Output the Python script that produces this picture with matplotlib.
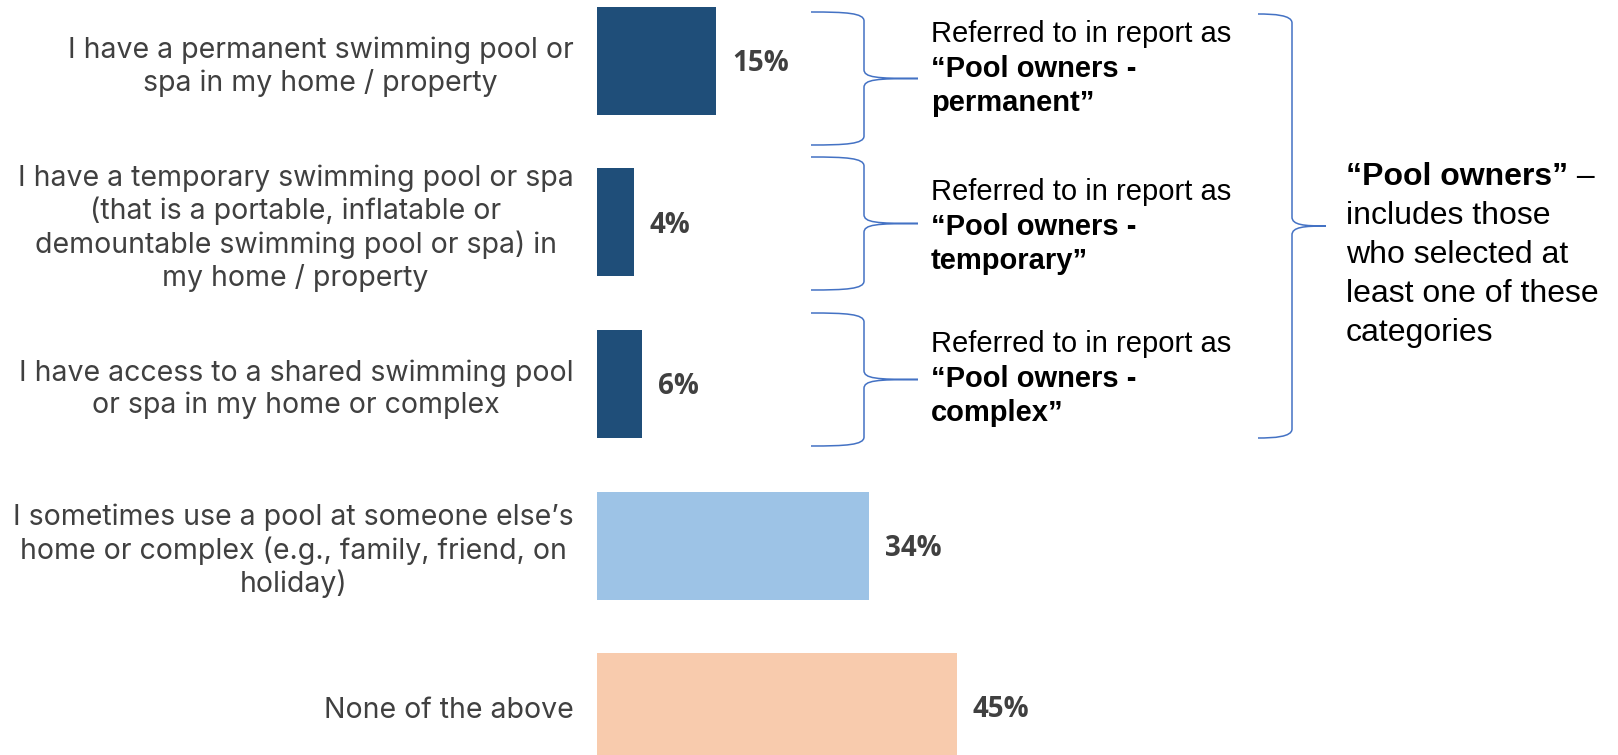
import matplotlib
matplotlib.use("Agg")
import matplotlib.pyplot as plt
from matplotlib.path import Path
from matplotlib.patches import PathPatch

# ---------------- data ----------------
categories = [
    "I have a permanent swimming pool or\nspa in my home / property",
    "I have a temporary swimming pool or spa\n(that is a portable, inflatable or\ndemountable swimming pool or spa) in\nmy home / property",
    "I have access to a shared swimming pool\nor spa in my home or complex",
    "I sometimes use a pool at someone else\u2019s\nhome or complex (e.g., family, friend, on\nholiday)",
    "None of the above",
]
values = [14.9, 4.6, 5.6, 34.0, 45.0]
value_labels = ["15%", "4%", "6%", "34%", "45%"]
bar_colors = ["#1F4E79", "#1F4E79", "#1F4E79", "#9DC3E6", "#F8CBAD"]

sub_notes = [
    ("Referred to in report as", "\u201cPool owners -", "permanent\u201d"),
    ("Referred to in report as", "\u201cPool owners -", "temporary\u201d"),
    ("Referred to in report as", "\u201cPool owners -", "complex\u201d"),
]
main_note_bold = "\u201cPool owners\u201d"
main_note_rest = "includes those\nwho selected at\nleast one of these\ncategories"

# ---------------- figure ----------------
W, H = 1618, 755
fig = plt.figure(figsize=(W / 100, H / 100), dpi=100)
fig.patch.set_facecolor("white")

ax_left = 597
ax = fig.add_axes([ax_left / W, 0, (W - ax_left) / W, 1])
px_per_unit = 8.0
ax.set_xlim(0, (W - ax_left) / px_per_unit)
pitch = 161.5
c0 = 61
ax.set_ylim((H - c0) / pitch, -c0 / pitch)

ypos = list(range(len(categories)))
ax.barh(ypos, values, height=108 / pitch, color=bar_colors, edgecolor="none")

ax.set_yticks(ypos)
ax.set_yticklabels(categories, fontsize=20.5, color="#404040",
                   family=["Inter", "DejaVu Sans"], multialignment="center",
                   linespacing=1.22)
ax.tick_params(axis="y", length=0, pad=17)
ax.set_xticks([])
for s in ax.spines.values():
    s.set_visible(False)
ax.patch.set_alpha(0)

for y, v, lab in zip(ypos, values, value_labels):
    ax.annotate(lab, xy=(v, y), xytext=(11.5, -2), textcoords="offset points",
                ha="left", va="center", fontsize=20, fontweight="bold",
                color="#404040", family=["Open Sans", "DejaVu Sans"])

# ---------------- braces ----------------
brace_color = "#4472C4"


def brace(x0, xs, xp, top, bot, r=9):
    """Right-facing curly brace in figure pixel coordinates (y from top)."""
    mid = (top + bot) / 2
    def P(x, y):
        return (x / W, 1 - y / H)
    verts = [
        P(x0, top), P(xs - 18, top), P(xs, top + 1), P(xs, top + r),
        P(xs, mid - r),
        P(xs, mid - 1), P(xs + 12, mid), P(xp, mid),
        P(xs + 12, mid), P(xs, mid + 1), P(xs, mid + r),
        P(xs, bot - r),
        P(xs, bot - 1), P(xs - 18, bot), P(x0, bot),
    ]
    codes = [Path.MOVETO, Path.CURVE4, Path.CURVE4, Path.CURVE4,
             Path.LINETO,
             Path.CURVE4, Path.CURVE4, Path.CURVE4,
             Path.CURVE4, Path.CURVE4, Path.CURVE4,
             Path.LINETO,
             Path.CURVE4, Path.CURVE4, Path.CURVE4]
    fig.patches.append(PathPatch(Path(verts, codes), transform=fig.transFigure,
                                 fill=False, edgecolor=brace_color, lw=1.1))


for top, bot in [(12, 145), (157, 290), (313, 446)]:
    brace(811, 864, 918, top, bot)
brace(1258, 1292, 1326, 14, 438)

# ---------------- notes ----------------
arial = ["Liberation Sans", "DejaVu Sans"]
for (l1, l2, l3), base in zip(sub_notes, [42, 200, 352]):
    fig.text(931 / W, 1 - base / H, l1, fontsize=21, family=arial,
             color="black", va="baseline", ha="left")
    fig.text(931 / W, 1 - (base + 35) / H, l2, fontsize=21, family=arial,
             fontweight="bold", color="black", va="baseline", ha="left")
    fig.text(931 / W, 1 - (base + 69) / H, l3, fontsize=21, family=arial,
             fontweight="bold", color="black", va="baseline", ha="left")

t_bold = fig.text(1346 / W, 1 - 185 / H, main_note_bold, fontsize=23,
                  family=arial, fontweight="bold", color="black",
                  va="baseline", ha="left")
ax.annotate(" \u2013", xy=(1, 0), xycoords=t_bold, xytext=(0, 0),
            textcoords="offset points", fontsize=23, family=arial,
            color="black", va="bottom", ha="left")
rest_lines = main_note_rest.split("\n")
for i, line in enumerate(rest_lines):
    fig.text(1346 / W, 1 - (185 + 39 * (i + 1)) / H, line, fontsize=23,
             family=arial, color="black", va="baseline", ha="left")

fig.savefig("out.png", dpi=100, facecolor="white")
